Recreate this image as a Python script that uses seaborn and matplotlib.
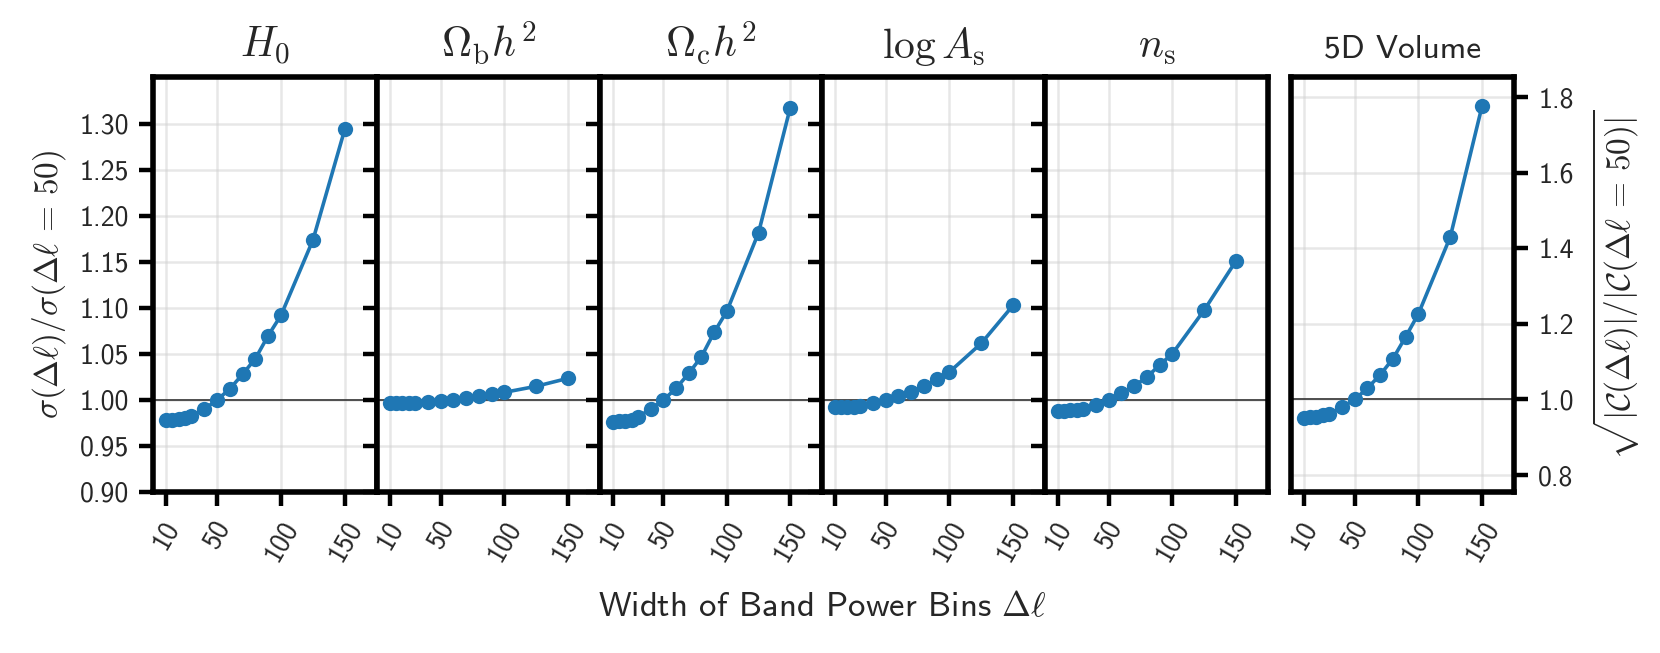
import numpy as np
import pandas as pd
import matplotlib
matplotlib.use("Agg")
import matplotlib.pyplot as plt
import seaborn as sns

# ---- data ----
delta_ell = [10, 15, 20, 25, 30, 40, 50, 60, 70, 80, 90, 100, 125, 150]
H0 = [0.978, 0.978, 0.979, 0.980, 0.9826, 0.990, 1.000, 1.012, 1.028, 1.045, 1.070, 1.092, 1.174, 1.295]
ombh2 = [0.9964, 0.9964, 0.9964, 0.9967, 0.9971, 0.9982, 0.9993, 1.0004, 1.002, 1.0043, 1.0065, 1.0083, 1.0149, 1.0236]
omch2 = [0.9764, 0.9768, 0.9775, 0.9786, 0.9819, 0.9899, 1.000, 1.0127, 1.029, 1.0471, 1.0736, 1.0964, 1.1819, 1.3178]
logAs = [0.9928, 0.9924, 0.9924, 0.9928, 0.9938, 0.9971, 1.000, 1.004, 1.009, 1.0149, 1.0228, 1.0304, 1.0616, 1.1029]
ns = [0.9877, 0.9884, 0.9888, 0.9895, 0.9906, 0.9942, 1.000, 1.0072, 1.0152, 1.025, 1.038, 1.0504, 1.0978, 1.1514]
vol5d = [0.9514, 0.9523, 0.954, 0.9576, 0.962, 0.9797, 1.000, 1.030, 1.0654, 1.108, 1.166, 1.227, 1.4306, 1.778]

titles = [r"$H_0$", r"$\Omega_\mathrm{b}h^2$", r"$\Omega_\mathrm{c}h^2$",
          r"$\log A_\mathrm{s}$", r"$n_\mathrm{s}$", "5D Volume"]
xtick_vals = [10, 50, 100, 150]
left_yticks = [0.90, 0.95, 1.00, 1.05, 1.10, 1.15, 1.20, 1.25, 1.30]
right_yticks = [0.8, 1.0, 1.2, 1.4, 1.6, 1.8]

series = [H0, ombh2, omch2, logAs, ns, vol5d]

sns.set_theme(style="ticks")
plt.rcParams["font.family"] = ["cmss10", "DejaVu Sans"]
plt.rcParams["mathtext.fontset"] = "cm"
plt.rcParams["axes.unicode_minus"] = False

W, H = 1660, 653
fig = plt.figure(figsize=(W / 200, H / 200), dpi=200)

bottom_px, top_px = 492, 77
lefts = [153, 377, 600, 822, 1045, 1291]
rights = [377, 600, 822, 1045, 1268, 1514]
color = "#1f77b4"
spine_w = 2.0
tick_fs = 10

axes = []
for i, (l, r) in enumerate(zip(lefts, rights)):
    ax = fig.add_axes([l / W, 1 - bottom_px / H, (r - l) / W, (bottom_px - top_px) / H])
    axes.append(ax)
    df = pd.DataFrame({"dl": delta_ell, "val": series[i]})
    ax.axhline(1.0, color="#333333", lw=0.6, zorder=1)
    sns.lineplot(data=df, x="dl", y="val", ax=ax, color=color, marker="o",
                 markersize=5.5, markeredgewidth=0, lw=1.3, zorder=3)
    ax.set_xlim(0, 175)
    ax.set_xticks(xtick_vals)
    ax.set_xticklabels([str(v) for v in xtick_vals], rotation=60, ha="center", fontsize=tick_fs)
    ax.set_xlabel("")
    ax.set_ylabel("")
    ax.set_title(titles[i], fontsize=15 if i < 5 else 12, pad=7)
    ax.grid(True, color="#d0d0d0", alpha=0.5, lw=0.9)
    for s in ax.spines.values():
        s.set_linewidth(spine_w)
        s.set_color("black")
    ax.tick_params(axis="both", direction="out", length=5.2, width=1.6, labelsize=tick_fs, color="black")
    if i < 5:
        ax.set_ylim(0.90, 1.351)
        ax.set_yticks(left_yticks)
        if i == 0:
            ax.set_yticklabels([f"{v:.2f}" for v in left_yticks])
            ax.set_ylabel(r"$\sigma(\Delta\ell)/\sigma(\Delta\ell\,=\,50)$", fontsize=12, labelpad=4)
        else:
            ax.tick_params(axis="y", labelleft=False)
    else:
        ax.set_ylim(0.755, 1.854)
        ax.set_yticks(right_yticks)
        ax.set_yticklabels([f"{v:.1f}" for v in right_yticks])
        ax.yaxis.tick_right()
        ax.yaxis.set_label_position("right")
        ax.set_ylabel(r"$\sqrt{|\mathcal{C}(\Delta\ell)|/|\mathcal{C}(\Delta\ell\,=\,50)|}$",
                      fontsize=12, labelpad=6)

fig.text(822 / W, 1 - 608 / H, r"Width of Band Power Bins $\Delta\ell$",
         ha="center", va="center", fontsize=12.5)

fig.savefig("out.png", dpi=200)
